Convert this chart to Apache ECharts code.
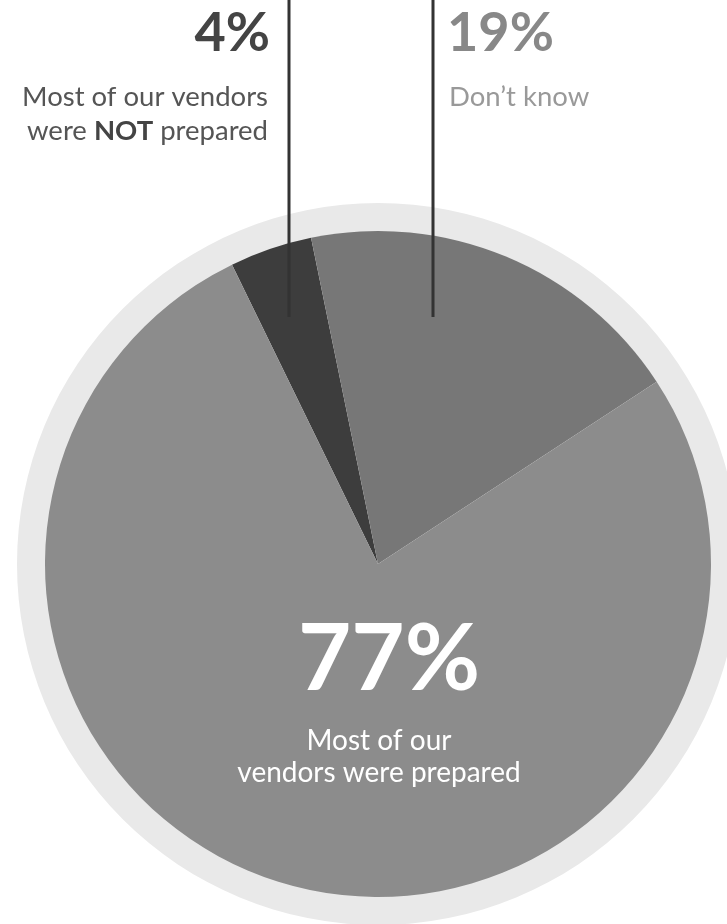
<!DOCTYPE html>
<html>
<head>
<meta charset="utf-8">
<script src="https://cdn.jsdelivr.net/npm/echarts@6/dist/echarts.min.js"></script>
<style>
  html, body { margin: 0; padding: 0; background: #ffffff; }
  #chart { width: 727px; height: 924px; }
</style>
</head>
<body>
<div id="chart"></div>
<script>
// Survey answers, in clockwise order from the upper-left edge of the pie
const answers = ['Most of our vendors were NOT prepared', 'Don’t know', 'Most of our vendors were prepared'];
const shares = [4, 19, 77];
const sliceColors = ['#3d3d3d', '#777777', '#8c8c8c'];

const chart = echarts.init(document.getElementById('chart'), null, { renderer: 'canvas' });

const FONT = 'Lato, "Noto Sans", sans-serif';
const pct = i => shares[i] + '%';

chart.setOption({
  animation: false,
  series: [
    {
      // pale backing ring around the pie
      type: 'pie',
      silent: true,
      z: 1,
      center: [378, 564],
      radius: [332, 361],
      label: { show: false },
      labelLine: { show: false },
      itemStyle: { color: '#e9e9e9' },
      data: [{ value: 1, name: 'ring' }]
    },
    {
      type: 'pie',
      z: 2,
      center: [378, 564],
      radius: [0, 333],
      startAngle: 116,
      clockwise: true,
      label: { show: false },
      labelLine: { show: false },
      itemStyle: { borderWidth: 0 },
      data: answers.map((name, i) => ({ name, value: shares[i], itemStyle: { color: sliceColors[i] } }))
    }
  ],
  graphic: {
    elements: [
      // leader lines dropping into the two small slices
      { type: 'line', z: 100, shape: { x1: 289, y1: 0, x2: 289, y2: 317 }, style: { stroke: '#333333', lineWidth: 3 } },
      { type: 'line', z: 100, shape: { x1: 433, y1: 0, x2: 433, y2: 317 }, style: { stroke: '#333333', lineWidth: 3 } },
      {
        type: 'text', z: 100, x: 270, y: 34,
        style: { text: pct(0), font: 'bold 54px ' + FONT, fill: '#444444', align: 'right', verticalAlign: 'middle' }
      },
      {
        type: 'text', z: 100, x: 268, y: 114,
        style: {
          text: '{r|Most of our vendors}\n{r|were }{b|NOT}{r| prepared}',
          align: 'right', verticalAlign: 'middle',
          rich: {
            r: { font: '27.5px ' + FONT, fill: '#555555', lineHeight: 34, align: 'right' },
            b: { font: 'bold 27.5px ' + FONT, fill: '#444444', lineHeight: 34, align: 'right' }
          }
        }
      },
      {
        type: 'text', z: 100, x: 447, y: 34,
        style: { text: pct(1), font: 'bold 54px ' + FONT, fill: '#888888', align: 'left', verticalAlign: 'middle' }
      },
      {
        type: 'text', z: 100, x: 449, y: 97,
        style: { text: answers[1], font: '27.5px ' + FONT, fill: '#999999', align: 'left', verticalAlign: 'middle' }
      },
      {
        type: 'text', z: 100, x: 389, y: 660,
        style: { text: pct(2), font: 'bold 92px ' + FONT, fill: '#ffffff', align: 'center', verticalAlign: 'middle' }
      },
      {
        type: 'text', z: 100, x: 379, y: 757,
        style: {
          text: 'Most of our\nvendors were prepared',
          font: '28px ' + FONT, fill: '#ffffff', align: 'center', verticalAlign: 'middle', lineHeight: 32
        }
      }
    ]
  }
});
</script>
</body>
</html>
